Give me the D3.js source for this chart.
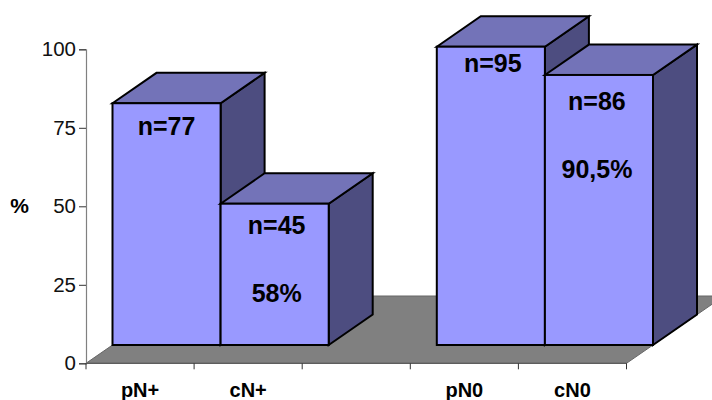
<!DOCTYPE html>
<html>
<head>
<meta charset="utf-8">
<script src="https://cdnjs.cloudflare.com/ajax/libs/d3/7.8.5/d3.min.js"></script>
<style>
body { margin: 0; background: #fff; }
svg { display: block; font-family: "Liberation Sans", Arial, sans-serif; }
</style>
</head>
<body>
<div id="chart"></div>
<script>
var categories = ["pN+", "cN+", "gap", "pN0", "cN0"];
var categoryLabels = ["pN+", "cN+", "", "pN0", "cN0"];
var values = [77, 45, null, 95, 86];
var nLabels = ["n=77", "n=45", "", "n=95", "n=86"];
var pctLabels = ["", "58%", "", "", "90,5%"];
var yTicks = [0, 25, 50, 75, 100];

var width = 712, height = 400;
var plot = {left: 86, right: 626.5, top: 49.3, bottom: 363.3};

// oblique depth of the 3d box
var floorDx = 97.5, floorDy = 67.3;
var barDx = 44, barDy = 30.4;
var barOffX = 26.5, barOffY = 18.3;

var svg = d3.select("#chart")
    .append("svg")
    .attr("width", width)
    .attr("height", height);

var x = d3.scaleBand()
    .domain(categories)
    .range([plot.left, plot.right]);

var y = d3.scaleLinear()
    .domain([0, 100])
    .range([plot.bottom, plot.top]);

// floor
svg.append("path")
    .attr("d", d3.line()([
        [plot.left, y(0)],
        [plot.right, y(0)],
        [plot.right + floorDx, y(0) - floorDy],
        [plot.left + floorDx, y(0) - floorDy]
    ]) + "Z")
    .attr("fill", "#808080")
    .attr("stroke", "#666")
    .attr("stroke-width", 1);

// axes
var yAxis = svg.append("g")
    .attr("transform", "translate(" + plot.left + ",0)")
    .call(d3.axisLeft(y).tickValues(yTicks).tickSize(7).tickPadding(3));
yAxis.select(".domain").attr("stroke", "#808080").attr("stroke-width", 1.2);
yAxis.selectAll(".tick line").attr("stroke", "#333");
yAxis.selectAll("text")
    .attr("fill", "#111")
    .style("font-size", "20.5px");

var xAxis = svg.append("g")
    .attr("transform", "translate(0," + plot.bottom + ")");
xAxis.append("line")
    .attr("x1", plot.left).attr("x2", plot.right)
    .attr("stroke", "#555");
xAxis.selectAll("line.tick")
    .data(categories.concat(["end"]))
    .enter()
    .append("line")
    .attr("class", "tick")
    .attr("x1", function(d) { return d == "end" ? plot.right : x(d); })
    .attr("x2", function(d) { return d == "end" ? plot.right : x(d); })
    .attr("y1", 0)
    .attr("y2", 6)
    .attr("stroke", "#333");
xAxis.selectAll("text")
    .data(categories)
    .enter()
    .append("text")
    .attr("x", function(d) { return x(d) + x.bandwidth() / 2; })
    .attr("y", 33.4)
    .attr("text-anchor", "middle")
    .attr("font-weight", "bold")
    .style("font-size", "20px")
    .text(function(d, i) { return categoryLabels[i]; });

svg.append("text")
    .attr("x", 19.5)
    .attr("y", 213)
    .attr("text-anchor", "middle")
    .attr("font-weight", "bold")
    .style("font-size", "21px")
    .text("%");

// bars, left to right so the later ones overlap
var bars = svg.selectAll("g.bar")
    .data(categories.map(function(c, i) { return {cat: c, value: values[i], i: i}; })
        .filter(function(d) { return d.value != null; }))
    .enter()
    .append("g")
    .attr("class", "bar");

function box(d) {
    var x0 = x(d.cat) + barOffX,
        x1 = x0 + x.bandwidth(),
        base = y(0) - barOffY,
        top = base - (y(0) - y(d.value));
    return {x0: x0, x1: x1, base: base, top: top};
}

bars.append("path")
    .attr("d", function(d) {
        var b = box(d);
        return d3.line()([[b.x1, b.base], [b.x1 + barDx, b.base - barDy], [b.x1 + barDx, b.top - barDy], [b.x1, b.top]]) + "Z";
    })
    .attr("fill", "#4d4d80");

bars.append("path")
    .attr("d", function(d) {
        var b = box(d);
        return d3.line()([[b.x0, b.top], [b.x0 + barDx, b.top - barDy], [b.x1 + barDx, b.top - barDy], [b.x1, b.top]]) + "Z";
    })
    .attr("fill", "#7373b8");

bars.append("rect")
    .attr("x", function(d) { return box(d).x0; })
    .attr("y", function(d) { return box(d).top; })
    .attr("width", x.bandwidth())
    .attr("height", function(d) { return box(d).base - box(d).top; })
    .attr("fill", "#9999ff");

bars.selectAll("path, rect")
    .attr("stroke", "#000")
    .attr("stroke-width", 2)
    .attr("stroke-linejoin", "miter");

// text inside the bars, nudged by hand
var nDrop = [31.3, 30, 0, 25, 34.7];
var textShift = [0, 2, 0, 2, -2];
bars.append("text")
    .attr("x", function(d) { return (box(d).x0 + box(d).x1) / 2 + textShift[d.i]; })
    .attr("y", function(d) { return box(d).top + nDrop[d.i]; })
    .attr("text-anchor", "middle")
    .attr("font-weight", "bold")
    .style("font-size", "25px")
    .text(function(d) { return nLabels[d.i]; });

var pctDrop = 68;
bars.append("text")
    .attr("x", function(d) { return (box(d).x0 + box(d).x1) / 2 + textShift[d.i]; })
    .attr("y", function(d) { return box(d).top + nDrop[d.i] + pctDrop; })
    .attr("text-anchor", "middle")
    .attr("font-weight", "bold")
    .style("font-size", "25px")
    .text(function(d) { return pctLabels[d.i]; });
</script>
</body>
</html>
